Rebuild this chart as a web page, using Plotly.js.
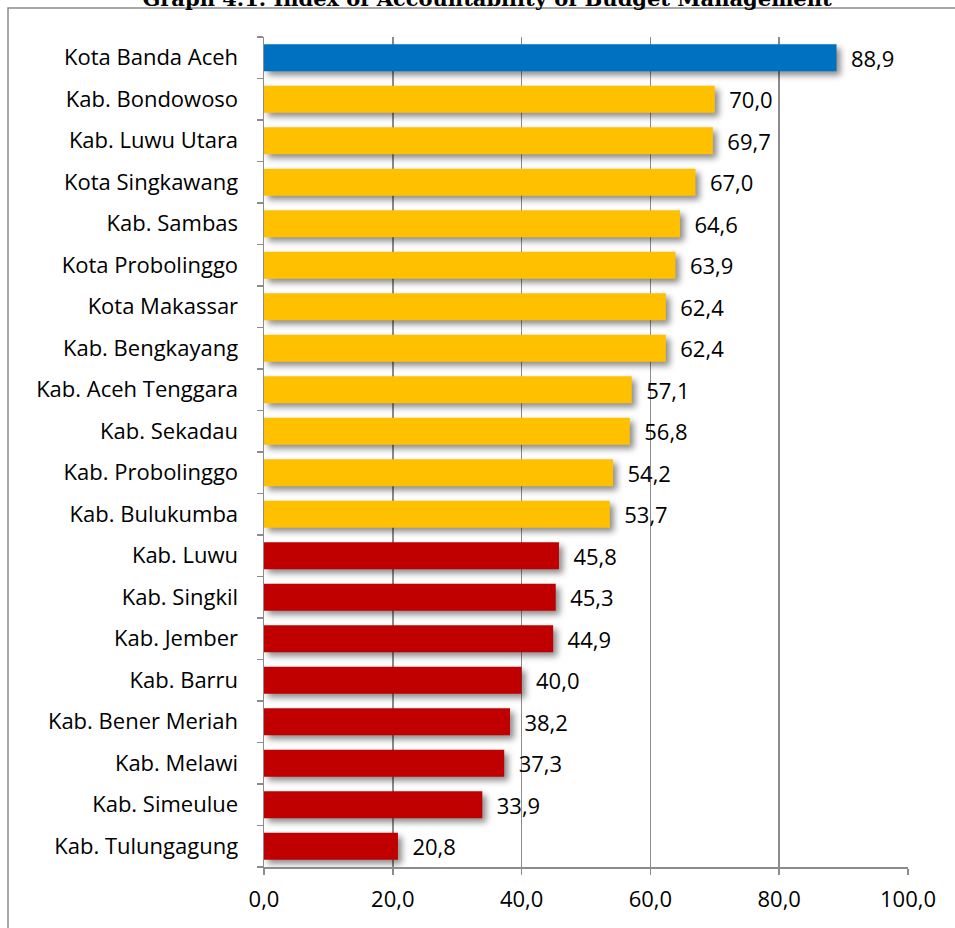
<!DOCTYPE html>
<html>
<head>
<meta charset="utf-8">
<script src="https://cdn.plot.ly/plotly-3.0.1.min.js"></script>
<style>
  html, body { margin: 0; padding: 0; background: #fff; }
  #chart { width: 955px; height: 928px; }
  .barlayer .point path { filter: drop-shadow(4px 4px 3px rgba(0,0,0,0.45)); }
</style>
</head>
<body>
<div id="chart"></div>
<script>
const regions = [
  "Kota Banda Aceh", "Kab. Bondowoso", "Kab. Luwu Utara", "Kota Singkawang",
  "Kab. Sambas", "Kota Probolinggo", "Kota Makassar", "Kab. Bengkayang",
  "Kab. Aceh Tenggara", "Kab. Sekadau", "Kab. Probolinggo", "Kab. Bulukumba",
  "Kab. Luwu", "Kab. Singkil", "Kab. Jember", "Kab. Barru",
  "Kab. Bener Meriah", "Kab. Melawi", "Kab. Simeulue", "Kab. Tulungagung"
];
const scores = [88.9, 70.0, 69.7, 67.0, 64.6, 63.9, 62.4, 62.4, 57.1, 56.8,
                54.2, 53.7, 45.8, 45.3, 44.9, 40.0, 38.2, 37.3, 33.9, 20.8];
const groups = ["top", "mid", "mid", "mid", "mid", "mid", "mid", "mid", "mid", "mid",
                "mid", "mid", "low", "low", "low", "low", "low", "low", "low", "low"];
const xTicks = [0, 20, 40, 60, 80, 100];
const titleText = "Graph 4.1. Index of Accountability of Budget Management";

const groupColors = { top: "#0070C0", mid: "#FFC000", low: "#C00000" };
const font = "'Open Sans', Lato, sans-serif";
const n = regions.length;
const boundaries = [];
for (let i = 0; i <= n; i++) boundaries.push(i - 0.5);

const trace = {
  type: "bar",
  orientation: "h",
  x: scores,
  y: regions,
  marker: { color: groups.map(g => groupColors[g]) },
  texttemplate: "\u00a0\u00a0%{x:.1f}",
  textposition: "outside",
  constraintext: "none",
  textfont: { family: font, size: 22, color: "#000" },
  cliponaxis: false,
  hoverinfo: "none",
  showlegend: false
};

const layout = {
  width: 955, height: 928,
  margin: { l: 264, r: 47, t: 37, b: 61 },
  paper_bgcolor: "#fff", plot_bgcolor: "#fff",
  separators: ",.",
  bargap: 0.35,
  uniformtext: { mode: false },
  title: {
    text: "<b>" + titleText + "</b>",
    font: { family: "'DejaVu Serif', 'Liberation Serif', serif", size: 21, color: "#000" },
    x: 0.51, xref: "container", xanchor: "center",
    y: 1 - 6 / 928, yref: "container", yanchor: "bottom"
  },
  xaxis: {
    range: [0, 100],
    tickvals: xTicks,
    tickformat: ".1f",
    ticks: "outside", ticklen: 6, tickcolor: "#8c8c8c", tickwidth: 1.5,
    showgrid: true, gridcolor: "#8c8c8c", gridwidth: 1.5,
    showline: true, linecolor: "#8c8c8c", linewidth: 1.5,
    zeroline: false,
    tickfont: { family: font, size: 22, color: "#000" },
    ticklabelstandoff: 6
  },
  yaxis: {
    type: "category",
    range: [n - 0.5, -0.5],
    ticks: "",
    showgrid: false, zeroline: false,
    showline: true, linecolor: "#8c8c8c", linewidth: 1.5,
    tickfont: { family: font, size: 22, color: "#000" },
    ticklabelstandoff: 20
  },
  yaxis2: {
    overlaying: "y",
    range: [n - 0.5, -0.5],
    tickvals: boundaries,
    ticks: "outside", ticklen: 6, tickcolor: "#8c8c8c", tickwidth: 1.5,
    showticklabels: false, showgrid: false, zeroline: false, showline: false
  },
  shapes: [{
    type: "rect", xref: "paper", yref: "paper",
    x0: (8 - 264) / 644, x1: 2, y0: -1, y1: 1 + (37 - 8) / 830,
    line: { color: "#8c8c8c", width: 1.5 }, fillcolor: "rgba(0,0,0,0)", layer: "below"
  }]
};

const dummy = { type: "scatter", x: [null], y: [null], yaxis: "y2", showlegend: false, hoverinfo: "none" };

Plotly.newPlot("chart", [trace, dummy], layout, { displayModeBar: false, staticPlot: true });
</script>
</body>
</html>
